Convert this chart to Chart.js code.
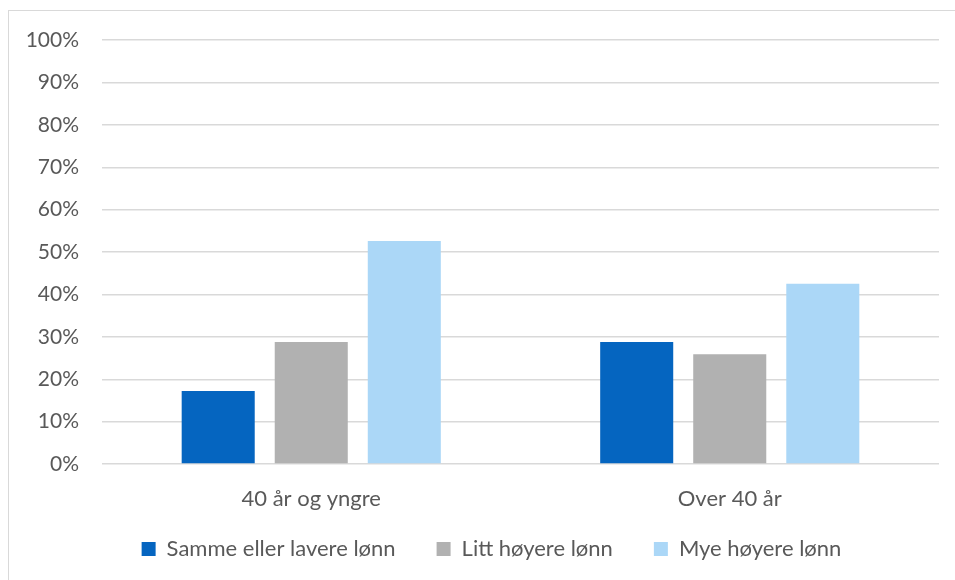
<!DOCTYPE html>
<html lang="no">
<head>
<meta charset="utf-8">
<title>Lønnsforventning etter alder</title>
<script src="https://cdn.jsdelivr.net/npm/chart.js@4/dist/chart.umd.min.js"></script>
<style>
  html, body { margin: 0; padding: 0; background: #ffffff; overflow: hidden; }
  #frame {
    position: absolute; left: 8px; top: 10px;
    width: 1000px; height: 620px;
    border: 1px solid #d9d9d9; box-sizing: border-box;
  }
  #wrap { position: absolute; left: 0; top: 0; width: 955px; height: 580px; }
</style>
</head>
<body>
<div id="frame"></div>
<div id="wrap"><canvas id="chart" width="955" height="580"></canvas></div>
<script>
// Age groups on the x axis
const categories = ['40 år og yngre', 'Over 40 år'];

// Share of respondents (%) per answer
const sammeEllerLavere = [17.2, 28.8];
const littHoyere = [28.8, 25.9];
const myeHoyere = [52.6, 42.5];

const seriesNames = ['Samme eller lavere lønn', 'Litt høyere lønn', 'Mye høyere lønn'];
const seriesColors = ['#0565c0', '#b1b1b1', '#abd7f7'];

// Y axis ticks 0 % – 100 %
const yTicks = [0, 10, 20, 30, 40, 50, 60, 70, 80, 90, 100];

const textColor = '#595959';
const gridColor = '#d9d9d9';
const fontFamily = 'Lato, "Open Sans", "Liberation Sans", sans-serif';

const seriesValues = [sammeEllerLavere, littHoyere, myeHoyere];

// Centre the legend under the whole frame and pull it up a little
const legendOffset = {
  id: 'legendOffset',
  afterLayout(chart) {
    const lg = chart.legend;
    if (!lg) return;
    lg.left += 22; lg.right += 22;
    lg.top -= 19; lg.bottom -= 19;
  }
};

new Chart(document.getElementById('chart'), {
  type: 'bar',
  data: {
    labels: categories,
    datasets: seriesValues.map((values, i) => ({
      label: seriesNames[i],
      data: values,
      backgroundColor: seriesColors[i],
      borderWidth: 0,
      categoryPercentage: 0.667,
      barPercentage: 0.785
    }))
  },
  plugins: [legendOffset],
  options: {
    responsive: false,
    animation: false,
    devicePixelRatio: 1,
    layout: { padding: { left: 0, right: 16, top: 40, bottom: -9 } },
    plugins: {
      tooltip: { enabled: false },
      legend: {
        position: 'bottom',
        labels: {
          color: textColor,
          font: { family: fontFamily, size: 22 },
          boxWidth: 14,
          boxHeight: 14,
          padding: 41
        }
      }
    },
    scales: {
      x: {
        grid: { display: false },
        border: { display: false },
        ticks: {
          color: textColor,
          font: { family: fontFamily, size: 22 },
          padding: 14
        },
        afterFit: (scale) => { scale.height = 52; }
      },
      y: {
        min: 0,
        max: 100,
        afterBuildTicks: (scale) => { scale.ticks = yTicks.map(v => ({ value: v })); },
        grid: { color: gridColor, lineWidth: 1.4, drawTicks: false },
        border: { display: false },
        ticks: {
          color: textColor,
          font: { family: fontFamily, size: 21 },
          padding: 23,
          callback: (v) => v + '%'
        },
        afterFit: (scale) => { scale.width = 102; }
      }
    }
  }
});
</script>
</body>
</html>
